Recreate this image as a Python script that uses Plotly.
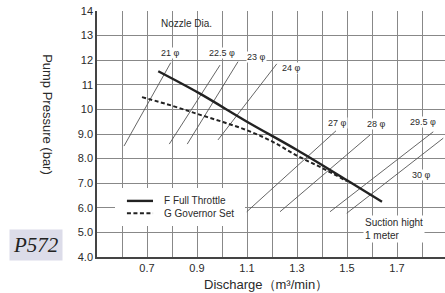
import plotly.graph_objects as go

# Performance curves
f_q = [0.745, 0.91, 1.1, 1.3, 1.5, 1.64]
f_p = [11.55, 10.65, 9.5, 8.35, 7.12, 6.25]
g_q = [0.68, 0.8, 0.9, 1.0, 1.1, 1.2, 1.3, 1.4, 1.5]
g_p = [10.5, 10.15, 9.82, 9.5, 9.15, 8.7, 8.12, 7.62, 7.08]

# Nozzle lines
nozzle_names = ["21 φ", "22.5 φ", "23 φ", "24 φ", "27 φ", "28 φ", "29.5 φ", "30 φ"]
nozzle_q0 = [0.608, 0.789, 0.861, 0.984, 1.099, 1.232, 1.432, 1.499]
nozzle_p0 = [8.51, 8.59, 8.59, 8.76, 5.84, 5.84, 5.84, 5.78]
nozzle_q1 = [0.795, 0.992, 1.064, 1.219, 1.456, 1.592, 1.845, 1.885]
nozzle_p1 = [11.90, 11.80, 11.94, 11.85, 9.13, 8.96, 9.09, 8.83]
label_q = [0.792, 0.999, 1.139, 1.279, 1.461, 1.616, 1.803, 1.799]
label_p = [12.30, 12.30, 12.12, 11.67, 9.46, 9.41, 9.49, 7.33]

# grid every 0.1, labels on odd tenths
x_gridvals = [0.6, 0.7, 0.8, 0.9, 1.0, 1.1, 1.2, 1.3, 1.4, 1.5, 1.6, 1.7, 1.8]
x_ticklabels = ["", "0.7", "", "0.9", "", "1.1", "", "1.3", "", "1.5", "", "1.7", ""]
y_tickvals = [4, 5, 6, 7, 8, 9, 10, 11, 12, 13, 14]
y_ticktext = ["4.0", "5.0", "6.0", "7.0", "8.0", "9.0", "10", "11", "12", "13", "14"]

legend_names = ["F Full Throttle", "G Governor Set"]

FONT = "Liberation Sans, Arial, sans-serif"
TXT = "#2a2a2a"

fig = go.Figure()

for i, name in enumerate(nozzle_names):
    fig.add_trace(go.Scatter(
        x=[nozzle_q0[i], nozzle_q1[i]], y=[nozzle_p0[i], nozzle_p1[i]],
        mode="lines", line=dict(color="#555555", width=0.9),
        showlegend=False, hoverinfo="skip"))

fig.add_trace(go.Scatter(x=f_q, y=f_p, mode="lines", name=legend_names[0], showlegend=False,
                         line=dict(color="#222222", width=2.4, shape="spline")))
fig.add_trace(go.Scatter(x=g_q, y=g_p, mode="lines", name=legend_names[1], showlegend=False,
                         line=dict(color="#222222", width=2, dash="4px,2.5px", shape="spline")))

for i, name in enumerate(nozzle_names):
    fig.add_annotation(x=label_q[i], y=label_p[i], text=name, showarrow=False,
                       font=dict(family=FONT, size=9, color=TXT), bgcolor="white",
                       borderpad=0)

fig.add_annotation(x=0.856, y=13.51, text="Nozzle Dia.", showarrow=False,
                   font=dict(family=FONT, size=10, color=TXT))
fig.add_annotation(x=1.564, y=5.12, text="Suction hight<br>1 meter", showarrow=False,
                   xanchor="left", yanchor="middle", align="left",
                   font=dict(family=FONT, size=10, color=TXT), bgcolor="white")

# legend box (drawn manually to match the compact spacing); white patch over gridlines
fig.add_shape(type="rect", xref="x", yref="y", x0=0.572, x1=1.092, y0=5.26, y1=6.80,
              fillcolor="white", line=dict(width=0), layer="between")
fig.add_shape(type="line", xref="paper", yref="paper", x0=0.086, x1=0.161, y0=0.228, y1=0.228,
              line=dict(color="#222222", width=2.4))
fig.add_shape(type="line", xref="paper", yref="paper", x0=0.086, x1=0.161, y0=0.178, y1=0.178,
              line=dict(color="#222222", width=2, dash="4px,2.5px"))
for yv, name in zip([0.228, 0.178], legend_names):
    fig.add_annotation(xref="paper", yref="paper", x=0.187, y=yv, text=name, showarrow=False,
                       xanchor="left", yanchor="middle",
                       font=dict(family=FONT, size=10, color=TXT))

# axis titles and model label
fig.add_annotation(xref="paper", yref="paper", x=-0.141, y=0.577, text="Pump Pressure (bar)",
                   textangle=90, showarrow=False, xanchor="center", yanchor="middle",
                   font=dict(family=FONT, size=13, color=TXT))
fig.add_annotation(xref="paper", yref="paper", x=0.486, y=-0.11, text="Discharge（m³/min）",
                   showarrow=False, xanchor="center", yanchor="middle",
                   font=dict(family=FONT, size=13, color=TXT))
fig.add_annotation(xref="paper", yref="paper", x=-0.175, y=0.049, text="P572",
                   showarrow=False, xanchor="center", yanchor="middle",
                   bgcolor="#dcdce9", borderpad=3,
                   font=dict(family="Liberation Serif, serif", size=21, color="#222222", style="italic"))

fig.update_layout(
    width=445, height=293,
    margin=dict(l=97, r=0, t=11, b=36),
    paper_bgcolor="white", plot_bgcolor="white",
    xaxis=dict(range=[0.5, 1.892], tickvals=x_gridvals, ticktext=x_ticklabels,
               showgrid=True, gridcolor="#888888", gridwidth=1,
               showline=True, linecolor="#444444", linewidth=1.5, zeroline=False,
               tickfont=dict(family=FONT, size=11, color=TXT)),
    yaxis=dict(range=[4, 14], tickvals=y_tickvals, ticktext=y_ticktext,
               showgrid=True, gridcolor="#888888", gridwidth=1,
               showline=True, linecolor="#444444", linewidth=1.5, zeroline=False,
               tickfont=dict(family=FONT, size=11, color=TXT)),
)

fig.write_html("out.html", config={"displayModeBar": False},
               post_script="document.body.style.margin='0';")
